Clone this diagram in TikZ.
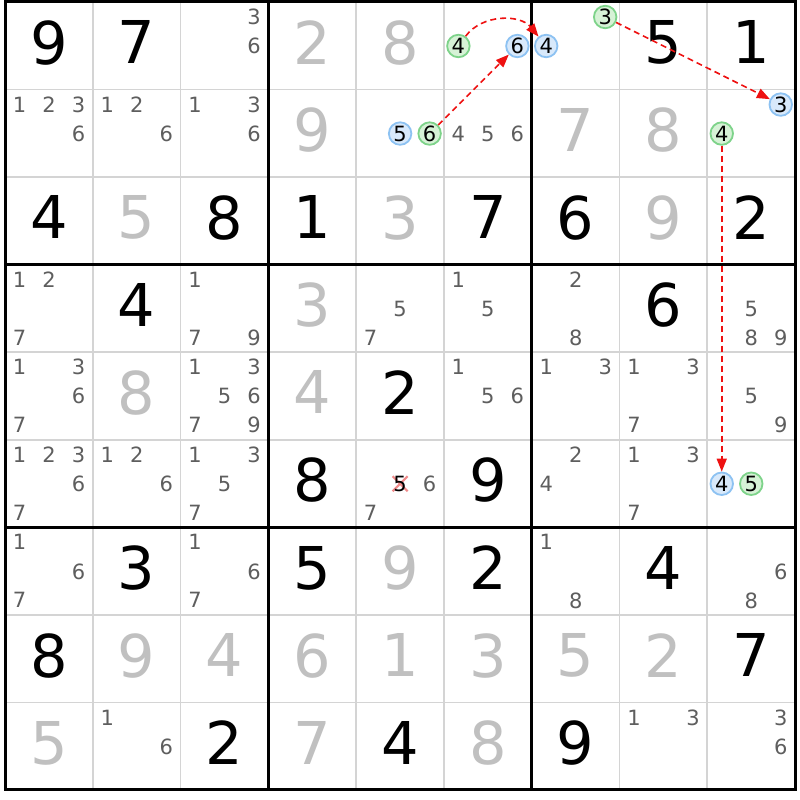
\documentclass[tikz,border=0pt]{standalone}
\usepackage{fontspec}
\setmainfont{DejaVu Sans}
\usetikzlibrary{arrows.meta}
\definecolor{gridgray}{HTML}{D4D4D4}
\definecolor{solved}{HTML}{C0C0C0}
\definecolor{pencil}{HTML}{5E5E5E}
\definecolor{bfill}{HTML}{D8E9FB}
\definecolor{bline}{HTML}{8DC2F2}
\definecolor{gfill}{HTML}{D6F2D6}
\definecolor{gline}{HTML}{7ED38A}
\definecolor{arrred}{HTML}{EE1111}
\definecolor{xred}{HTML}{F08A8A}
\def\ox{5}\def\oy{2}\def\cw{87.78}\def\ch{87.55}
\tikzset{
  gdig/.style={inner sep=0pt, text depth=0pt, font=\fontsize{59}{59}\selectfont, text=black},
  sdig/.style={gdig, text=solved},
  pmark/.style={inner sep=0pt, text depth=0pt, font=\fontsize{21}{21}\selectfont, text=pencil},
  bcand/.style={circle, draw=bline, fill=bfill, line width=1.8pt, minimum size=22.5pt, inner sep=0pt, text depth=0pt, font=\fontsize{21}{21}\selectfont, text=black},
  gcand/.style={bcand, draw=gline, fill=gfill},
  chain/.style={draw=arrred, line width=1.6pt, dash pattern=on 6pt off 4pt, -{Triangle[length=13pt,width=10pt,fill=arrred]}},
}
\newcommand\gvn[3]{\node[gdig] (g#1#2) at ({\ox+\cw*(#2-0.5)},{\oy+\ch*(#1-0.5)-3.5}) {#3};}
\newcommand\slv[3]{\node[sdig] (s#1#2) at ({\ox+\cw*(#2-0.5)},{\oy+\ch*(#1-0.5)-3.5}) {#3};}
\newcommand\pms[3]{\foreach \d in {#3}{%
  \pgfmathtruncatemacro\kx{mod(\d-1,3)}\pgfmathtruncatemacro\ky{floor((\d-1)/3)}%
  \node[pmark] (p#1#2\d) at ({\ox+\cw*(#2-1)+14.5+29.5*\kx},{\oy+\ch*(#1-1)+15+29*\ky}) {\d};}}
\newcommand\cnd[5]{% style row col digit name
  \pgfmathtruncatemacro\kx{mod(#4-1,3)}\pgfmathtruncatemacro\ky{floor((#4-1)/3)}%
  \node[#1] (#5) at ({\ox+\cw*(#3-1)+14.5+29.5*\kx},{\oy+\ch*(#2-1)+15+29*\ky}) {#4};}
\begin{document}
\begin{tikzpicture}[x=1pt,y=-1pt]
\useasboundingbox (0,0) rectangle (800,800);
\fill[white] (0,0) rectangle (800,800);
% thin lines
\foreach \i in {1,2,4,5,7,8}{
  \draw[draw=gridgray, line width=1.8pt] ({\ox+\cw*\i},\oy) -- ({\ox+\cw*\i},{\oy+9*\ch});
  \draw[draw=gridgray, line width=1.8pt] (\ox,{\oy+\ch*\i}) -- ({\ox+9*\cw},{\oy+\ch*\i});
}
\foreach \i in {3,6}{
  \draw[black, line width=2.6pt] ({\ox+\cw*\i},\oy) -- ({\ox+\cw*\i},{\oy+9*\ch});
  \draw[black, line width=2.6pt] (\ox,{\oy+\ch*\i}) -- ({\ox+9*\cw},{\oy+\ch*\i});
}
\draw[black, line width=3pt] (\ox,\oy) rectangle ({\ox+9*\cw},{\oy+9*\ch});
% row 1
\gvn{1}{1}{9}\gvn{1}{2}{7}\pms{1}{3}{3,6}\slv{1}{4}{2}\slv{1}{5}{8}
\cnd{gcand}{1}{6}{4}{a164}\cnd{bcand}{1}{6}{6}{a166}
\cnd{bcand}{1}{7}{4}{a174}\cnd{gcand}{1}{7}{3}{a173}
\gvn{1}{8}{5}\gvn{1}{9}{1}
% row 2
\pms{2}{1}{1,2,3,6}\pms{2}{2}{1,2,6}\pms{2}{3}{1,3,6}\slv{2}{4}{9}
\cnd{bcand}{2}{5}{5}{a255}\cnd{gcand}{2}{5}{6}{a256}
\pms{2}{6}{4,5,6}\slv{2}{7}{7}\slv{2}{8}{8}
\cnd{bcand}{2}{9}{3}{a293}\cnd{gcand}{2}{9}{4}{a294}
% row 3
\gvn{3}{1}{4}\slv{3}{2}{5}\gvn{3}{3}{8}\gvn{3}{4}{1}\slv{3}{5}{3}\gvn{3}{6}{7}\gvn{3}{7}{6}\slv{3}{8}{9}\gvn{3}{9}{2}
% row 4
\pms{4}{1}{1,2,7}\gvn{4}{2}{4}\pms{4}{3}{1,7,9}\slv{4}{4}{3}\pms{4}{5}{5,7}\pms{4}{6}{1,5}\pms{4}{7}{2,8}\gvn{4}{8}{6}\pms{4}{9}{5,8,9}
% row 5
\pms{5}{1}{1,3,6,7}\slv{5}{2}{8}\pms{5}{3}{1,3,5,6,7,9}\slv{5}{4}{4}\gvn{5}{5}{2}\pms{5}{6}{1,5,6}\pms{5}{7}{1,3}\pms{5}{8}{1,3,7}\pms{5}{9}{5,9}
% row 6
\pms{6}{1}{1,2,3,6,7}\pms{6}{2}{1,2,6}\pms{6}{3}{1,3,5,7}\gvn{6}{4}{8}
\coordinate (x65) at ({\ox+\cw*4+44},{\oy+\ch*5+44});
\draw[xred, line width=2.2pt] ([shift={(-7.5,-7.5)}]x65) -- ([shift={(7.5,7.5)}]x65) ([shift={(-7.5,7.5)}]x65) -- ([shift={(7.5,-7.5)}]x65);
\node[pmark, text=black] (p655) at (x65) {5};
\pms{6}{5}{6,7}\gvn{6}{6}{9}\pms{6}{7}{2,4}\pms{6}{8}{1,3,7}
\cnd{bcand}{6}{9}{4}{a694}\cnd{gcand}{6}{9}{5}{a695}
% row 7
\pms{7}{1}{1,6,7}\gvn{7}{2}{3}\pms{7}{3}{1,6,7}\gvn{7}{4}{5}\slv{7}{5}{9}\gvn{7}{6}{2}\pms{7}{7}{1,8}\gvn{7}{8}{4}\pms{7}{9}{6,8}
% row 8
\gvn{8}{1}{8}\slv{8}{2}{9}\slv{8}{3}{4}\slv{8}{4}{6}\slv{8}{5}{1}\slv{8}{6}{3}\slv{8}{7}{5}\slv{8}{8}{2}\gvn{8}{9}{7}
% row 9
\slv{9}{1}{5}\pms{9}{2}{1,6}\gvn{9}{3}{2}\slv{9}{4}{7}\gvn{9}{5}{4}\slv{9}{6}{8}\gvn{9}{7}{9}\pms{9}{8}{1,3}\pms{9}{9}{3,6}
% chain
\draw[chain] (a164) .. controls (482,14) and (520,14) .. (a174);
\draw[chain] (a256) -- (a166);
\draw[chain] (a173) -- (a293);
\draw[chain] (a294) -- (a694);
\end{tikzpicture}
\end{document}
